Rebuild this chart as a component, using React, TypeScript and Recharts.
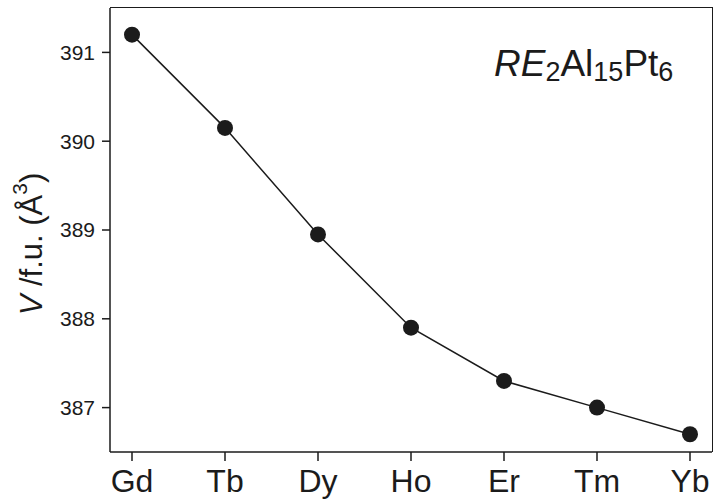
import { LineChart, Line, XAxis, YAxis } from 'recharts'

const elements = ['Gd', 'Tb', 'Dy', 'Ho', 'Er', 'Tm', 'Yb']
const volumes = [391.2, 390.15, 388.95, 387.9, 387.3, 387.0, 386.7]
const yTicks = [387, 388, 389, 390, 391]
const yDomain = [386.5, 391.5]

const data = elements.map((el, i) => ({ el, v: volumes[i] }))

const ink = '#1b1b1b'
const font = 'Arial, "Liberation Sans", Helvetica, sans-serif'

const W = 714
const H = 504
const M = { top: 8, right: 2, left: 0, bottom: 0 }
const yAxisW = 110
const xAxisH = 52

function YLabel(props: any) {
  const vb = props.viewBox || { x: 0, y: 8, width: 110, height: 444 }
  const cx = 31
  const cy = vb.y + vb.height / 2 + 14
  return (
    <text
      x={cx}
      y={cy}
      transform={`rotate(-90 ${cx} ${cy})`}
      textAnchor="middle"
      dominantBaseline="central"
      fontFamily={font}
      fontSize={31}
      fill={ink}
    >
      <tspan fontStyle="italic">V</tspan>
      <tspan> /f.u. (Å</tspan>
      <tspan fontSize={21} dy={-12}>3</tspan>
      <tspan dy={12}>)</tspan>
    </text>
  )
}

export default function App() {
  return (
    <div style={{ position: 'absolute', left: 0, top: 0, width: W, height: H, background: '#fff' }}>
      <LineChart width={W} height={H} data={data} margin={M}>
        <XAxis
          dataKey="el"
          height={xAxisH}
          padding={{ left: 22, right: 22 }}
          tick={{ fontSize: 32, fill: ink, fontFamily: font }}
          tickSize={9}
          tickMargin={8}
          axisLine={{ stroke: ink, strokeWidth: 1.5 }}
          tickLine={{ stroke: ink, strokeWidth: 1.5 }}
        />
        <YAxis
          width={yAxisW}
          domain={yDomain}
          ticks={yTicks}
          tick={{ fontSize: 21, fill: ink, fontFamily: font }}
          tickSize={8}
          tickMargin={7}
          axisLine={{ stroke: ink, strokeWidth: 1.5 }}
          tickLine={{ stroke: ink, strokeWidth: 1.5 }}
          label={<YLabel />}
        />
        <Line
          type="linear"
          dataKey="v"
          stroke={ink}
          strokeWidth={1.5}
          dot={{ r: 8, fill: ink, stroke: ink, strokeWidth: 0 }}
          isAnimationActive={false}
        />
      </LineChart>
      {/* top and right edges of the plot frame */}
      <div
        style={{
          position: 'absolute',
          left: M.left + yAxisW,
          top: M.top - 0.75,
          width: W - M.left - M.right - yAxisW + 0.75,
          height: H - M.top - M.bottom - xAxisH + 0.75,
          borderTop: `1.5px solid ${ink}`,
          borderRight: `1.5px solid ${ink}`,
          boxSizing: 'border-box',
          pointerEvents: 'none',
        }}
      />
      <div
        style={{
          position: 'absolute',
          left: 494,
          top: 45,
          fontFamily: font,
          fontSize: 37,
          color: ink,
          lineHeight: 1,
          whiteSpace: 'nowrap',
        }}
      >
        <i>RE</i>
        <sub style={{ fontSize: 27, verticalAlign: -5 }}>2</sub>
        Al
        <sub style={{ fontSize: 27, verticalAlign: -5 }}>15</sub>
        Pt
        <sub style={{ fontSize: 27, verticalAlign: -5 }}>6</sub>
      </div>
    </div>
  )
}
